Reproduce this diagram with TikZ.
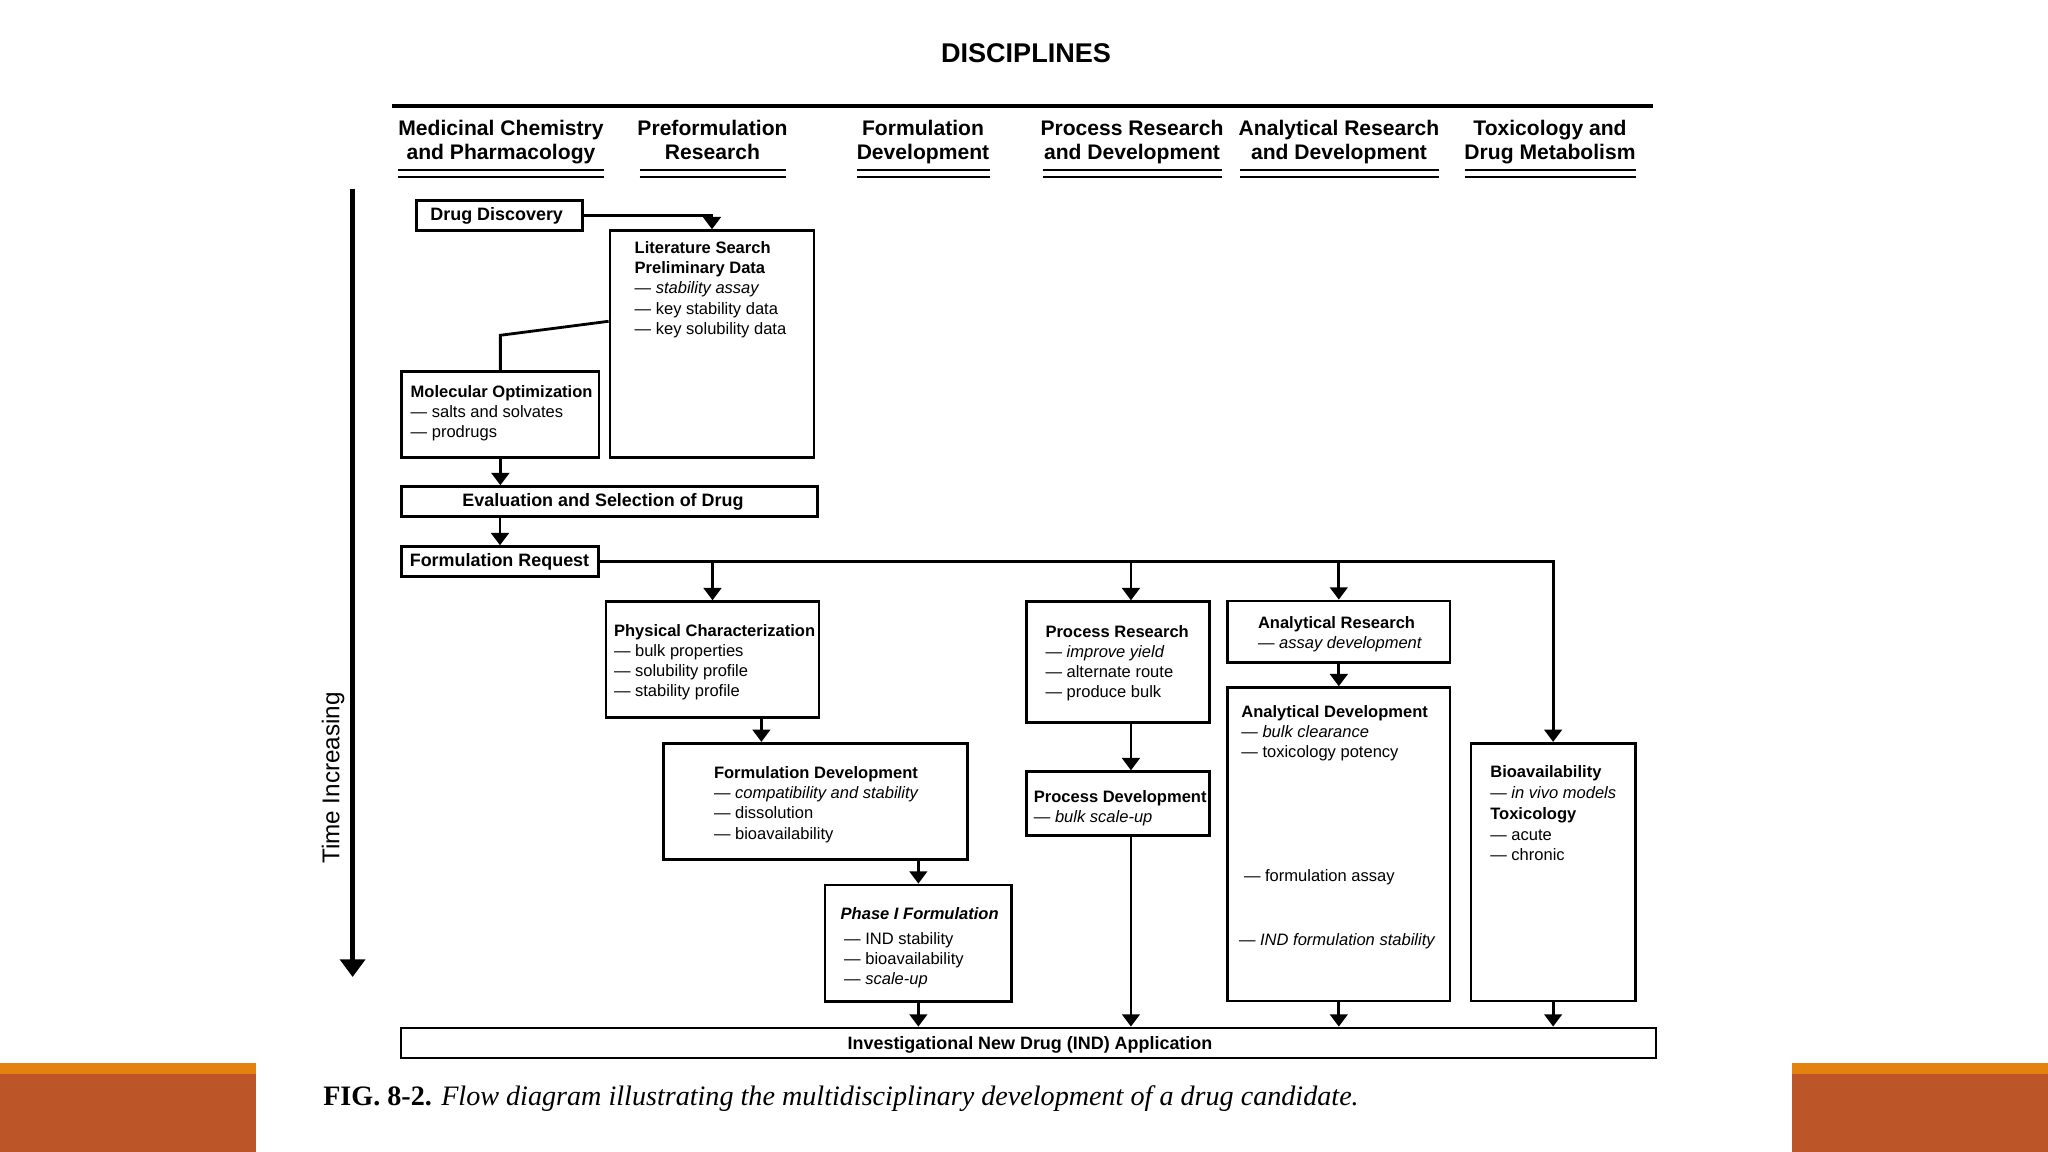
\documentclass[tikz,border=0pt]{standalone}
\usepackage{fontspec}
\setmainfont{Liberation Serif}
\setsansfont{Liberation Sans}
\usetikzlibrary{arrows.meta,fit,calc}
\definecolor{orangeA}{RGB}{227,130,15}
\definecolor{rust}{RGB}{188,86,40}
\begin{document}
\begin{tikzpicture}[x=0.01cm,y=-0.01cm,
  box/.style={draw, line width=0.8pt, inner sep=0pt},
  lbl/.style={font=\sffamily\bfseries\fontsize{5.1}{6}\selectfont, inner sep=0pt},
  txt/.style={font=\sffamily\fontsize{4.7}{5.7}\selectfont, align=left, inner sep=0pt, anchor=north west},
  one/.style={font=\sffamily\fontsize{4.7}{5.7}\selectfont, inner sep=0pt, anchor=west},
  hdr/.style={font=\sffamily\bfseries\fontsize{6}{6.7}\selectfont, align=center, inner sep=0pt, anchor=north},
  arr/.style={line width=0.8pt, -{Triangle[width=5pt,length=3.5pt]}},
  con/.style={line width=0.8pt},
  uline/.style={line width=0.5pt}
]
\fill[white] (0,0) rectangle (2048,1152);
\path[use as bounding box] (0,0) rectangle (2048,1152);

% decorative bars
\fill[rust] (0,1074) rectangle (256,1152);
\fill[orangeA] (0,1063) rectangle (256,1074);
\fill[rust] (1792,1074) rectangle (2048,1152);
\fill[orangeA] (1792,1063) rectangle (2048,1074);

% title and headers
\node[font=\sffamily\bfseries\fontsize{7.7}{9}\selectfont] (title) at (1026,53.5) {DISCIPLINES};
\draw[line width=0.9pt] (392,106) -- (1653,106);

\node[hdr] (h1) at (501,119.5) {Medicinal Chemistry\\and Pharmacology};
\node[hdr] (h2) at (712.5,119.5) {Preformulation\\Research};
\node[hdr] (h3) at (923,119.5) {Formulation\\Development};
\node[hdr] (h4) at (1132,119.5) {Process Research\\and Development};
\node[hdr] (h5) at (1339,119.5) {Analytical Research\\and Development};
\node[hdr] (h6) at (1550,119.5) {Toxicology and\\Drug Metabolism};
\foreach \a/\b in {398/604, 639.5/786, 856.8/989.5, 1043/1221.6, 1240/1439, 1464.6/1636}{
  \draw[uline] (\a,170) -- (\b,170);
  \draw[uline] (\a,176.7) -- (\b,176.7);
}

% time arrow
\coordinate (tA) at (352.6,189);
\coordinate (tB) at (352.6,977);
\draw[line width=1.6pt, -{Triangle[width=7pt,length=5pt]}] (tA) -- (tB);
\node[rotate=90, font=\sffamily\fontsize{6.9}{8}\selectfont] (tl) at (333,778) {Time Increasing};

% boxes
\node[box, fit={(416.7,200.7) (582.3,230.7)}] (dd) {};
\node[lbl] (ddT) at (496.7,216) {Drug Discovery};
\node[box, fit={(610,230.7) (814,457.3)}] (lit) {};
\node[txt] (litT) at (634,241.2) {\textbf{Literature Search}\\\textbf{Preliminary Data}\\— \textit{stability assay}\\— key stability data\\— key solubility data};

\node[box, fit={(401.7,371.7) (599,457.3)}] (mol) {};
\node[txt] (molT) at (410,385.2) {\textbf{Molecular Optimization}\\— salts and solvates\\— prodrugs};

\node[box, fit={(401.7,486.7) (817.3,516.7)}] (eval) {};
\node[lbl] (evalT) at (603,502) {Evaluation and Selection of Drug};
\node[box, fit={(401.7,546.7) (598.3,576.7)}] (fr) {};
\node[lbl] (frT) at (499.5,561.7) {Formulation Request};

\node[box, fit={(606,601.7) (819,717.3)}] (phys) {};
\node[txt] (physT) at (613.3,623.8) {\textbf{Physical Characterization}\\— bulk properties\\— solubility profile\\— stability profile};

\node[box, fit={(663.5,743.3) (967.5,859.4)}] (fd) {};
\node[txt] (fdT) at (713.3,766.2) {\textbf{Formulation Development}\\— \textit{compatibility and stability}\\— dissolution\\— bioavailability};

\node[box, fit={(825,885) (1011.7,1001.7)}] (phase) {};
\node[txt] (phaseT) at (840,907.2) {\textbf{\textit{Phase I Formulation}}\\[1.2pt]\hspace{1pt}— IND stability\\\hspace{1pt}— bioavailability\\\hspace{1pt}— \textit{scale-up}};

\node[box, fit={(401,1028) (1656,1058)}] (ind) {};
\node[lbl] (indT) at (1030,1045) {Investigational New Drug (IND) Application};

\node[box, fit={(1026.5,601.7) (1209.4,722.2)}] (procR) {};
\node[txt] (procRT) at (1044.8,624.5) {\textbf{Process Research}\\— \textit{improve yield}\\— alternate route\\— produce bulk};

\node[box, fit={(1026.5,771.7) (1209.4,835.9)}] (procD) {};
\node[txt] (procDT) at (1033.2,789.5) {\textbf{Process Development}\\— \textit{bulk scale-up}};

\node[box, fit={(1227.6,601) (1450,662.5)}] (anR) {};
\node[txt] (anRT) at (1257.3,615.5) {\textbf{Analytical Research}\\— \textit{assay development}};

\node[box, fit={(1227.6,687.7) (1450,1001)}] (anD) {};
\node[txt] (anDT) at (1240.7,705.2) {\textbf{Analytical Development}\\— \textit{bulk clearance}\\— toxicology potency};
\node[one] (anD2) at (1243.3,877.3) {— formulation assay};
\node[one] (anD3) at (1238.3,941.7) {— \textit{IND formulation stability}};

\node[box, fit={(1471,743.3) (1635.3,1001)}] (bio) {};
\node[txt] (bioT) at (1489.6,764.5) {\textbf{Bioavailability}\\[0.3pt]— \textit{in vivo models}\\[0.3pt]\textbf{Toxicology}\\[0.3pt]— acute\\— chronic};

% caption
\node[anchor=west, inner sep=0pt, font=\fontsize{8}{9.5}\selectfont] (cap) at (322.6,1098.4) {\textbf{FIG. 8-2.} \textit{Flow diagram illustrating the multidisciplinary development of a drug candidate.}};

% connectors
\draw[arr] (dd.east) -| (lit.north);
\draw[con] ($(lit.north west)+(0,92)$) -- ($(mol.north)+(0,-35)$) -- (mol.north);
\draw[arr] (mol.south) -- (mol.south |- eval.north);
\draw[arr] (fr.north |- eval.south) -- (fr.north);
\draw[arr] (fr.east) -| (bio.north);
\draw[arr] (fr.east -| phys.north) -- (phys.north);
\coordinate (pc) at ($(procR.north)+(13,0)$);
\draw[arr] (fr.east -| pc) -- (pc);
\draw[arr] (fr.east -| anR.north) -- (anR.north);
\coordinate (pf) at ($(phys.south east)+(-59,0)$);
\draw[arr] (pf) -- (pf |- fd.north);
\draw[arr] (fd.south -| phase.north) -- (phase.north);
\draw[arr] (phase.south) -- (phase.south |- ind.north);
\draw[arr] (pc |- procR.south) -- (pc |- procD.north);
\draw[arr] (pc |- procD.south) -- (pc |- ind.north);
\draw[arr] (anR.south) -- (anD.north);
\draw[arr] (anD.south) -- (anD.south |- ind.north);
\draw[arr] (bio.south) -- (bio.south |- ind.north);
\end{tikzpicture}
\end{document}
